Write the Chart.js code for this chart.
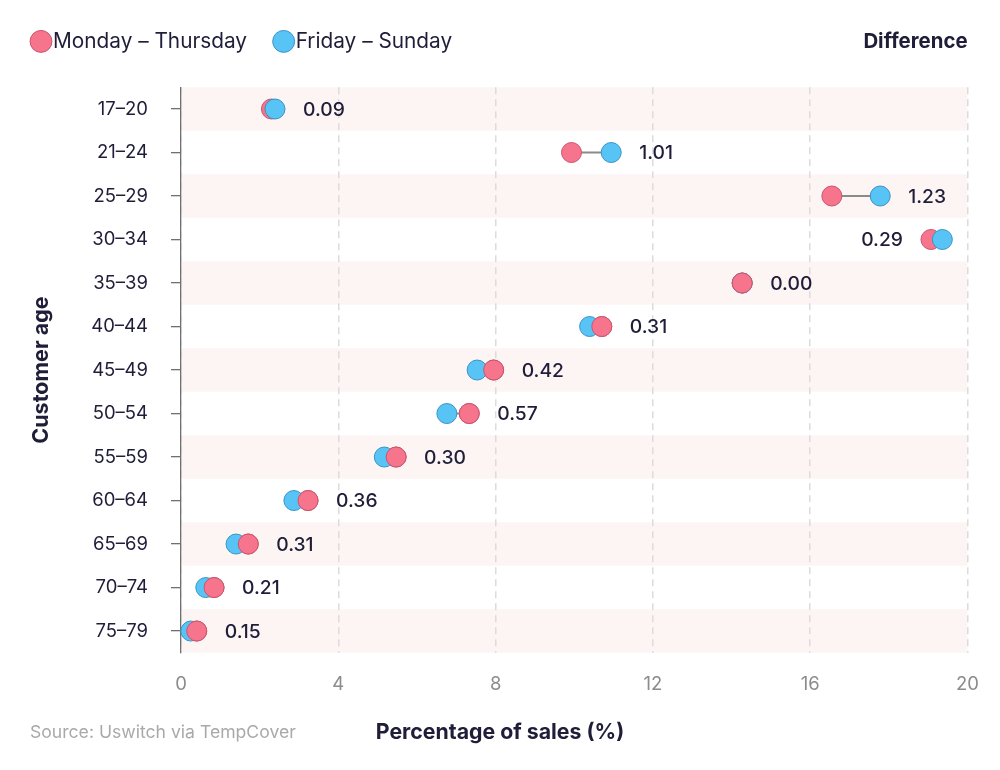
<!DOCTYPE html>
<html>
<head>
<meta charset="utf-8">
<script src="https://cdn.jsdelivr.net/npm/chart.js@4"></script>
<style>
html,body{margin:0;padding:0;background:#ffffff;}
#wrap{width:1000px;height:770px;position:relative;}
</style>
</head>
<body>
<div id="wrap"><canvas id="c"></canvas></div>
<script>
// ---- data ----
const ageGroups = ['17–20','21–24','25–29','30–34','35–39','40–44','45–49','50–54','55–59','60–64','65–69','70–74','75–79'];
const monThu = [2.30, 9.93, 16.55, 19.07, 14.27, 10.70, 7.95, 7.33, 5.47, 3.23, 1.71, 0.84, 0.40];
const friSun = [2.39, 10.94, 17.78, 19.36, 14.27, 10.39, 7.53, 6.76, 5.17, 2.87, 1.40, 0.63, 0.25];
const differences = ['0.09','1.01','1.23','0.29','0.00','0.31','0.42','0.57','0.30','0.36','0.31','0.21','0.15'];
const xTicks = [0, 4, 8, 12, 16, 20];
const seriesNames = ['Monday – Thursday', 'Friday – Sunday'];

// ---- styles ----
const FONT = 'Inter, "Noto Sans", sans-serif';
const TEXT = '#1f1d38';
const PINK = '#f6748c', PINK_B = '#c9556d';
const BLUE = '#58c4f6', BLUE_B = '#3a93c4';
const BAND = '#fdf5f4';
const LEGEND_SIZE = 20.8;

Chart.defaults.font.family = FONT;

const pointBase = {
  type: 'line', indexAxis: 'y', showLine: false, clip: false,
  pointRadius: 10, pointHoverRadius: 10, borderWidth: 1, pointBorderWidth: 1
};

const bandsPlugin = {
  id: 'bands',
  beforeDraw(chart) {
    const {ctx, chartArea: a, scales: {y}} = chart;
    const step = Math.abs(y.getPixelForValue(1) - y.getPixelForValue(0));
    ctx.save();
    ctx.fillStyle = BAND;
    ageGroups.forEach((g, i) => {
      if (i % 2 === 0) {
        const c = y.getPixelForValue(i);
        ctx.fillRect(a.left, c - step / 2, a.right - a.left, step);
      }
    });
    ctx.restore();
  }
};

const legendSpace = {
  id: 'legendSpace',
  beforeLayout(chart) {
    const lg = chart.legend;
    if (lg && !lg._patched) {
      const orig = lg.fit;
      lg.fit = function () { orig.call(this); this.height += 25.45; };
      lg._patched = true;
    }
  }
};

const labelsPlugin = {
  id: 'diffLabels',
  afterDatasetsDraw(chart) {
    const {ctx, chartArea: a, scales: {x, y}} = chart;
    ctx.save();
    ctx.font = '500 19.3px ' + FONT;
    ctx.fillStyle = TEXT;
    ctx.textBaseline = 'middle';
    differences.forEach((d, i) => {
      const hi = Math.max(monThu[i], friSun[i]);
      const lo = Math.min(monThu[i], friSun[i]);
      const cy = y.getPixelForValue(i) + 1;
      const w = ctx.measureText(d).width;
      const px = x.getPixelForValue(hi) + 28;
      if (px + w > a.right) {
        ctx.textAlign = 'right';
        ctx.fillText(d, x.getPixelForValue(lo) - 28, cy);
      } else {
        ctx.textAlign = 'left';
        ctx.fillText(d, px, cy);
      }
    });
    ctx.restore();
  },
  afterDraw(chart) {
    const {ctx, chartArea: a} = chart;
    const lg = chart.legend;
    const ly = lg.top + lg.options.labels.padding + LEGEND_SIZE / 2;
    ctx.save();
    ctx.textBaseline = 'middle';
    ctx.fillStyle = TEXT;
    ctx.font = 'bold 20.4px ' + FONT;
    ctx.textAlign = 'right';
    ctx.fillText('Difference', a.right, ly);
    ctx.font = 'bold 21.3px ' + FONT;
    ctx.textAlign = 'center';
    ctx.fillText('Percentage of sales (%)', chart.width / 2, 733);
    ctx.font = '17.6px ' + FONT;
    ctx.fillStyle = '#a9a9a9';
    ctx.textAlign = 'left';
    ctx.fillText('Source: Uswitch via TempCover', 30, 733);
    ctx.restore();
  }
};

new Chart(document.getElementById('c'), {
  type: 'bar',
  data: {
    labels: ageGroups,
    datasets: [
      Object.assign({}, pointBase, {
        label: seriesNames[0], data: monThu, order: 3,
        backgroundColor: PINK, borderColor: PINK_B
      }),
      Object.assign({}, pointBase, {
        label: seriesNames[1], data: friSun, order: 2,
        backgroundColor: BLUE, borderColor: BLUE_B
      }),
      Object.assign({}, pointBase, {
        label: seriesNames[0] + ' (top)', order: 1,
        data: monThu.map((v, i) => (v >= friSun[i] ? v : null)),
        backgroundColor: PINK, borderColor: PINK_B
      }),
      {
        type: 'bar', label: 'gap', order: 4,
        data: monThu.map((v, i) => [v, friSun[i]]),
        backgroundColor: '#8a8a8a', borderWidth: 0, barThickness: 1.5
      }
    ]
  },
  options: {
    indexAxis: 'y',
    responsive: true,
    maintainAspectRatio: false,
    animation: false,
    events: [],
    layout: {padding: {top: -4, left: 4.4, right: 29, bottom: 53}},
    scales: {
      x: {
        type: 'linear', min: 0, max: 20,
        afterBuildTicks(scale) { scale.ticks = xTicks.map(v => ({value: v})); },
        grid: {color: '#dcdcdc', lineWidth: 1.5, drawTicks: false},
        border: {display: false, dash: [7, 5]},
        ticks: {color: '#8c8c8c', font: {size: 18.5}, padding: 21}
      },
      y: {
        type: 'category',
        offset: true,
        afterFit(scale) { scale.width = 176.6; },
        grid: {offset: false, drawOnChartArea: false, drawTicks: true, tickLength: 10, color: '#707070', lineWidth: 1.3},
        border: {display: true, color: '#707070', width: 1.3},
        ticks: {color: TEXT, font: {size: 18.5}, padding: 23},
        title: {display: true, text: 'Customer age', color: TEXT, font: {size: 21.5, weight: 'bold'}, padding: {top: 24.7, bottom: 0}}
      }
    },
    plugins: {
      tooltip: {enabled: false},
      legend: {
        position: 'top', align: 'start',
        labels: {
          usePointStyle: true, pointStyle: 'circle',
          boxWidth: 3.2, boxHeight: 15.5, padding: 35,
          color: TEXT, font: {size: LEGEND_SIZE},
          filter: (item) => item.datasetIndex < 2,
          sort: (a, b) => a.datasetIndex - b.datasetIndex
        }
      }
    }
  },
  plugins: [bandsPlugin, legendSpace, labelsPlugin]
});
</script>
</body>
</html>
